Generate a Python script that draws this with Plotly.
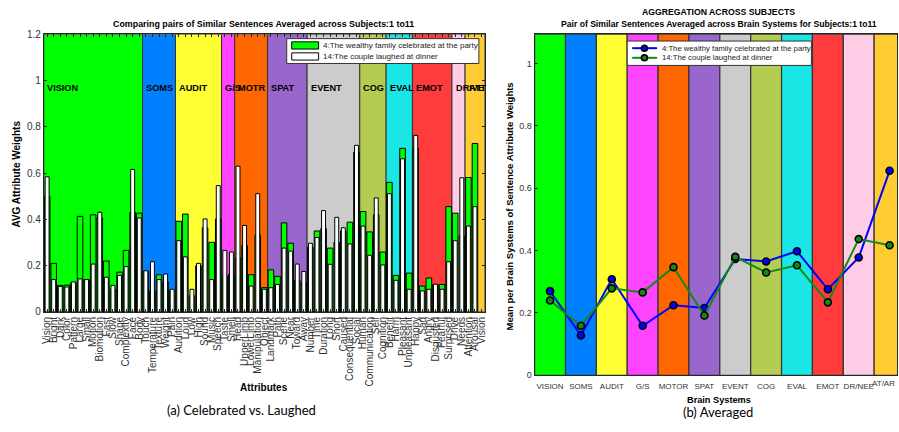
import plotly.graph_objects as go

# ---------------- data (left chart) ----------------
attributes = ["Vision", "Bright", "Dark", "Color", "Pattern", "Large", "Small", "Motion",
              "Biomotion", "Fast", "Slow", "Shape", "Complexity", "Face", "Body",
              "Touch", "Temperature", "Texture", "Weight", "Pain",
              "Audition", "Loud", "Low", "High", "Sound", "Music", "Speech",
              "Taste", "Smell",
              "Head", "UpperLimb", "LowerLimb", "Manipulation", "Object",
              "Landmark", "Path", "Scene", "Near", "Toward", "Away",
              "Number", "Time", "Duration", "Long", "Short", "Caused", "Consequential", "Social",
              "Human", "Communication", "Self", "Cognition",
              "Benefit", "Harm", "Pleasant", "Unpleasant",
              "Happy", "Sad", "Angry", "Disgusted", "Fearful", "Surprised",
              "Drive", "Needs", "Attention", "Arousal"]
extra_tick_label = "Vision"   # tick labels cycle past the last attribute

celebrated = [0.50, 0.21, 0.115, 0.116, 0.126, 0.413, 0.14, 0.42, 0.406, 0.22, 0.098, 0.172, 0.266, 0.43, 0.427,
              0.175, 0.09, 0.161, 0.13, 0.091,
              0.392, 0.423, 0.07, 0.20, 0.364, 0.301, 0.402,
              0.154, 0.164,
              0.234, 0.287, 0.161, 0.332, 0.105,
              0.182, 0.154, 0.385, 0.297, 0.136, 0.126,
              0.28, 0.35, 0.36, 0.276, 0.301, 0.35, 0.388, 0.69,
              0.434, 0.346, 0.42, 0.259,
              0.56, 0.158, 0.707, 0.168,
              0.707, 0.112, 0.147, 0.118, 0.119, 0.455,
              0.427, 0.329, 0.581, 0.728]
laughed = [0.584, 0.14, 0.11, 0.108, 0.13, 0.143, 0.14, 0.207, 0.431, 0.15, 0.115, 0.158, 0.196, 0.616, 0.406,
           0.178, 0.217, 0.14, 0.164, 0.098,
           0.308, 0.238, 0.098, 0.21, 0.402, 0.14, 0.546,
           0.266, 0.259,
           0.63, 0.374, 0.112, 0.511, 0.098,
           0.105, 0.119, 0.276, 0.263, 0.207, 0.175,
           0.297, 0.322, 0.438, 0.206, 0.409, 0.364, 0.294, 0.72,
           0.371, 0.245, 0.493, 0.203,
           0.511, 0.137, 0.662, 0.098,
           0.763, 0.091, 0.098, 0.12, 0.098, 0.217,
           0.308, 0.58, 0.371, 0.455]

group_names = ["VISION", "SOMS", "AUDIT", "G/S", "MOTR", "SPAT", "EVENT", "COG", "EVAL", "EMOT", "DRIVE", "ATT"]
group_sizes = [15, 5, 7, 2, 5, 6, 8, 4, 4, 6, 2, 2]
group_colors = ["#00FF00", "#0080FF", "#FFFF33", "#FF44FF", "#FF6600", "#9966CC",
                "#CCCCCC", "#B5CC52", "#1AE6E6", "#FF3B3B", "#FFCCE6", "#FFCC33"]

# ---------------- data (right chart) ----------------
systems = ["VISION", "SOMS", "AUDIT", "G/S", "MOTOR", "SPAT", "EVENT", "COG", "EVAL", "EMOT", "DR/NEE", "AT/AROUSAL"]
sys_celebrated = [0.27, 0.128, 0.308, 0.159, 0.225, 0.216, 0.373, 0.365, 0.398, 0.276, 0.378, 0.656]
sys_laughed = [0.24, 0.159, 0.279, 0.266, 0.347, 0.192, 0.38, 0.33, 0.353, 0.234, 0.437, 0.417]

name_a = "4:The wealthy family celebrated at the party"
name_b = "14:The couple laughed at dinner"

W, H = 899, 432
SANS = "Liberation Sans, Arial, sans-serif"
EDGE = "#333333"
BLUE = "#0000FF"
DGREEN = "#138A13"

n_ticks = len(attributes) + 1
x_idx = list(range(1, len(attributes) + 1))


def px(x):
    return x / W


def py(y):
    return 1 - y / H


fig = go.Figure()

# bars (overlaid, white drawn on top and narrower)
fig.add_trace(go.Bar(x=x_idx, y=celebrated, width=0.85, name=name_a, showlegend=False,
                     marker=dict(color="#00FF00", line=dict(color="black", width=1)),
                     xaxis="x", yaxis="y"))
fig.add_trace(go.Bar(x=x_idx, y=laughed, width=0.6, name=name_b, showlegend=False,
                     marker=dict(color="white", line=dict(color="black", width=1)),
                     xaxis="x", yaxis="y"))

# lines
fig.add_trace(go.Scatter(x=list(range(1, len(systems) + 1)), y=sys_celebrated, name=name_a,
                         mode="lines+markers", line=dict(color=BLUE, width=2), showlegend=False,
                         marker=dict(symbol="circle", size=7, color=BLUE,
                                     line=dict(color="black", width=1.6)),
                         xaxis="x2", yaxis="y2"))
fig.add_trace(go.Scatter(x=list(range(1, len(systems) + 1)), y=sys_laughed, name=name_b,
                         mode="lines+markers", line=dict(color=DGREEN, width=2), showlegend=False,
                         marker=dict(symbol="circle", size=7, color=DGREEN,
                                     line=dict(color="black", width=1.6)),
                         xaxis="x2", yaxis="y2"))

shapes = []
annotations = []

# left background bands + labels
start = 0.5
for i, (g, n, c) in enumerate(zip(group_names, group_sizes, group_colors)):
    end = start + n if i < len(group_names) - 1 else n_ticks + 0.5
    shapes.append(dict(type="rect", xref="x", yref="y", x0=start, x1=end, y0=0, y1=1.2,
                       fillcolor=c, line=dict(color=EDGE, width=1), layer="below"))
    annotations.append(dict(xref="x", yref="y", x=start + 0.25, y=0.966, text=g, showarrow=False,
                            xanchor="left", yanchor="middle",
                            font=dict(family=SANS, size=9.2, color="black", weight="bold")))
    start = end

# right background bands
for i, c in enumerate(group_colors):
    shapes.append(dict(type="rect", xref="x2", yref="y2 domain", x0=i + 0.5, x1=i + 1.5, y0=0, y1=1,
                       fillcolor=c, line=dict(color=EDGE, width=1.2), layer="below"))

# ---- legend boxes (drawn as shapes + text) ----
# left legend
shapes.append(dict(type="rect", xref="paper", yref="paper", x0=px(286), x1=px(479), y0=py(60), y1=py(34.5),
                   fillcolor="white", line=dict(color="#333333", width=1), layer="above"))
for k, (nm, col, yc) in enumerate([(name_a, "#00FF00", 41.5), (name_b, "white", 52.8)]):
    shapes.append(dict(type="rect", xref="paper", yref="paper", x0=px(291), x1=px(318),
                       y0=py(yc + 3.7), y1=py(yc - 3.7), fillcolor=col,
                       line=dict(color="black", width=1), layer="above"))
    annotations.append(dict(xref="paper", yref="paper", x=px(320.5), y=py(yc), text=nm, showarrow=False,
                            xanchor="left", yanchor="middle",
                            font=dict(family=SANS, size=8, color="#222222")))
# right legend
shapes.append(dict(type="rect", xref="paper", yref="paper", x0=px(628), x1=px(813), y0=py(62), y1=py(37),
                   fillcolor="white", line=dict(color="#333333", width=1), layer="above"))
for nm, col, yc in [(name_a, BLUE, 44.3), (name_b, DGREEN, 54.2)]:
    shapes.append(dict(type="line", xref="paper", yref="paper", x0=px(633), x1=px(658),
                       y0=py(yc), y1=py(yc), line=dict(color=col, width=2), layer="above"))
    shapes.append(dict(type="circle", xref="paper", yref="paper", x0=px(642.3), x1=px(648.3),
                       y0=py(yc + 3), y1=py(yc - 3), fillcolor=col,
                       line=dict(color="black", width=1.6), layer="above"))
    annotations.append(dict(xref="paper", yref="paper", x=px(660.5), y=py(yc), text=nm, showarrow=False,
                            xanchor="left", yanchor="middle",
                            font=dict(family=SANS, size=7.7, color="#222222")))


# titles and labels
def label(x, y, text, size, bold=True, angle=0, family=SANS):
    return dict(xref="paper", yref="paper", x=px(x), y=py(y), text=text, showarrow=False,
                xanchor="center", yanchor="middle", textangle=angle,
                font=dict(family=family, size=size, color="black", weight="bold" if bold else "normal"))


annotations += [
    label(263, 19.3, "Comparing pairs of Similar Sentences Averaged across Subjects:1 to11", 8.9),
    label(720, 7.5, "AGGREGATION ACROSS SUBJECTS", 8.7),
    label(720, 20, "Pair of Similar Sentences Averaged across Brain Systems for Subjects:1 to11", 8.6),
    label(15, 173, "AVG Attribute Weights", 10, angle=-90),
    label(263, 393, "Attributes", 10),
    label(510, 207, "Mean per Brain Systems of Sentence Attribute Weights", 9.5, angle=-90),
    label(720, 405, "Brain Systems", 9.2),
    label(241, 416, "(a) Celebrated vs. Laughed", 13, bold=False, family="Lato, sans-serif"),
    label(719, 418, "(b) Averaged", 13, bold=False, family="Lato, sans-serif"),
]

# last category label is cut by the image edge: show its visible part, right-aligned at the edge
annotations.append(dict(xref="paper", yref="paper", x=1.0, y=py(388.5), text=systems[-1][:5], showarrow=False,
                        xanchor="right", yanchor="middle",
                        font=dict(family=SANS, size=8, color="#333333")))

left_yticks = [0, 0.2, 0.4, 0.6, 0.8, 1.0, 1.2]
right_yticks = [0, 0.2, 0.4, 0.6, 0.8, 1.0]

fig.update_layout(
    width=W, height=H,
    margin=dict(l=0, r=0, t=0, b=0),
    paper_bgcolor="white", plot_bgcolor="white",
    barmode="overlay",
    showlegend=False,
    shapes=shapes, annotations=annotations,
    font=dict(family=SANS, color="#333333"),
    xaxis=dict(domain=[px(42), px(485)], range=[0.5, n_ticks + 0.5],
               tickmode="array", tickvals=list(range(1, n_ticks + 1)),
               ticktext=attributes + [extra_tick_label], tickangle=-90,
               tickfont=dict(size=10, color="#333333", family=SANS),
               ticks="inside", ticklen=3, tickcolor="#262626",
               showline=True, linecolor="#262626", linewidth=1, mirror="ticks",
               showgrid=False, zeroline=False, anchor="y"),
    yaxis=dict(domain=[py(315), py(30)], range=[0, 1.2],
               tickmode="array", tickvals=left_yticks, ticktext=["0", "0.2", "0.4", "0.6", "0.8", "1", "1.2"],
               tickfont=dict(size=10, color="#333333", family=SANS),
               ticks="inside", ticklen=3, tickcolor="#262626",
               showline=True, linecolor="#262626", linewidth=1, mirror="ticks",
               showgrid=False, zeroline=False, anchor="x"),
    xaxis2=dict(domain=[px(535), 1.0], range=[0.5, 12.24],
                tickmode="array", tickvals=list(range(1, len(systems))), ticktext=systems[:-1],
                tickangle=0, ticklabelstandoff=3,
                tickfont=dict(size=8, color="#333333", family=SANS),
                ticks="", showline=True, linecolor="#262626", linewidth=1, mirror=True,
                showgrid=False, zeroline=False, anchor="y2"),
    yaxis2=dict(domain=[py(380), py(30)], range=[0, 1.094],
                tickmode="array", tickvals=right_yticks, ticktext=["0", "0.2", "0.4", "0.6", "0.8", "1"],
                tickfont=dict(size=9, color="#333333", family=SANS),
                ticks="inside", ticklen=3, tickcolor="#262626",
                showline=True, linecolor="#262626", linewidth=1, mirror=True,
                showgrid=False, zeroline=False, anchor="x2"),
)

post = (
    "document.body.style.margin='0';"
    "document.body.style.overflow='hidden';"
)
fig.write_html("out.html", config={"displayModeBar": False}, post_script=post)
